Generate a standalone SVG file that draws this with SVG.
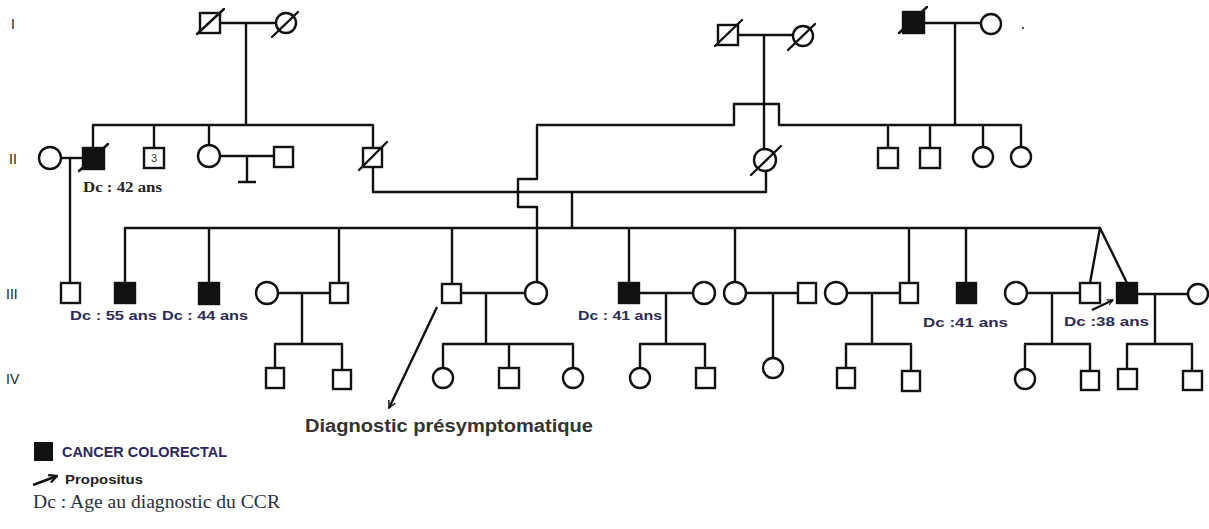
<svg xmlns="http://www.w3.org/2000/svg" width="1209" height="529" viewBox="0 0 1209 529">
  <style>
    .ln { fill: none; stroke: #111; stroke-width: 2.4; stroke-linejoin: round; }
    .m { fill: #fff; stroke: #111; stroke-width: 2.4; }
    .f { fill: #fff; stroke: #111; stroke-width: 2.4; }
    .a { fill: #111; stroke: #111; stroke-width: 2.4; }
    .sl { stroke: #111; stroke-width: 2.4; stroke-linecap: round; }
    .gen { font-family: "Liberation Sans", Arial, sans-serif; font-size: 14px; fill: #222; }
    .dc { font-family: "Liberation Sans", Arial, sans-serif; font-size: 13px; font-weight: bold; fill: #2d2b55; }
    .dcs { font-family: "Liberation Serif", "Times New Roman", serif; font-size: 14px; font-weight: bold; fill: #222; }
    .note { font-family: "Liberation Sans", Arial, sans-serif; font-size: 18px; font-weight: bold; fill: #333; }
    .leg { font-family: "Liberation Sans", Arial, sans-serif; font-size: 15px; font-weight: bold; fill: #2a2860; }
    .legp { font-family: "Liberation Sans", Arial, sans-serif; font-size: 13px; font-weight: bold; fill: #222; }
    .legs { font-family: "Liberation Serif", "Times New Roman", serif; font-size: 18px; fill: #2a3040; }
  </style>
  <defs>
    <marker id="head" viewBox="0 0 10 10" refX="9" refY="5" markerWidth="7" markerHeight="7" markerUnits="userSpaceOnUse" orient="auto">
      <path d="M1,1 L9,5 L1,9" fill="none" stroke="#111" stroke-width="1.6"/>
    </marker>
    <marker id="headS" viewBox="0 0 10 10" refX="9" refY="5" markerWidth="9" markerHeight="9" markerUnits="userSpaceOnUse" orient="auto">
      <path d="M1,1 L9,5 L1,9" fill="none" stroke="#111" stroke-width="1.6"/>
    </marker>
    <marker id="headL" viewBox="0 0 10 10" refX="9" refY="5" markerWidth="10" markerHeight="10" markerUnits="userSpaceOnUse" orient="auto">
      <path d="M1,1 L9,5 L1,9" fill="none" stroke="#111" stroke-width="2.2"/>
    </marker>
  </defs>

  <!-- generation numerals -->
  <g id="generations">
    <text class="gen" x="11" y="29">I</text>
    <text class="gen" x="9" y="164">II</text>
    <text class="gen" x="6" y="299">III</text>
    <text class="gen" x="6" y="384">IV</text>
  </g>

  <!-- connectors -->
  <g id="connectors">
    <!-- generation I couples -->
    <path class="ln" d="M220,23 H276"/>
    <path class="ln" d="M246,23 V125"/>
    <path class="ln" d="M738,35 H793"/>
    <path class="ln" d="M764,35 V149"/>
    <path class="ln" d="M924,23 H981"/>
    <path class="ln" d="M955,23 V125"/>

    <!-- generation II sibships -->
    <path class="ln" d="M93,148 V125 H373 V148"/>
    <path class="ln" d="M154,125 V148"/>
    <path class="ln" d="M209,125 V145"/>
    <path class="ln" d="M537,283 V207 H518 V179 H537 V125 H734 V104 H779 V125 H1021 V147"/>
    <path class="ln" d="M888,125 V148"/>
    <path class="ln" d="M930,125 V148"/>
    <path class="ln" d="M983,125 V147"/>

    <!-- generation II unions -->
    <path class="ln" d="M61,158 H83"/>
    <path class="ln" d="M70,158 V283"/>
    <path class="ln" d="M220,156 H274"/>
    <path class="ln" d="M247,156 V182 M238,182 H256"/>
    <path class="ln" d="M373,167 V192 H766 V171"/>
    <path class="ln" d="M572,192 V228"/>

    <!-- generation III sibship -->
    <path class="ln" d="M125,283 V228 H1100"/>
    <path class="ln" d="M209,228 V283"/>
    <path class="ln" d="M339,228 V283"/>
    <path class="ln" d="M452,228 V284"/>
    <path class="ln" d="M629,228 V283"/>
    <path class="ln" d="M735,228 V282"/>
    <path class="ln" d="M909,228 V283"/>
    <path class="ln" d="M966,228 V283"/>
    <path class="ln" d="M1090,283 L1100,228 L1127,283"/>

    <!-- generation III unions -->
    <path class="ln" d="M278,293 H330"/>
    <path class="ln" d="M302,293 V344"/>
    <path class="ln" d="M461,293 H525"/>
    <path class="ln" d="M486,293 V344"/>
    <path class="ln" d="M639,293 H693"/>
    <path class="ln" d="M666,293 V344"/>
    <path class="ln" d="M746,293 H798"/>
    <path class="ln" d="M773,293 V368"/>
    <path class="ln" d="M847,293 H900"/>
    <path class="ln" d="M872,293 V344"/>
    <path class="ln" d="M1027,293 H1080"/>
    <path class="ln" d="M1052,293 V344"/>
    <path class="ln" d="M1137,294 H1188"/>
    <path class="ln" d="M1155,294 V344"/>

    <!-- generation IV sibships -->
    <path class="ln" d="M275,368 V344 H342 V370"/>
    <path class="ln" d="M443,368 V344 H573 V368"/>
    <path class="ln" d="M509,344 V368"/>
    <path class="ln" d="M640,368 V344 H705 V368"/>
    <path class="ln" d="M846,368 V344 H911 V371"/>
    <path class="ln" d="M1025,369 V344 H1090 V371"/>
    <path class="ln" d="M1127,369 V344 H1192 V371"/>

    <!-- pointers -->
    <path class="ln" d="M437,307 L389,408" stroke-width="1.6" marker-end="url(#headS)"/>
    <path class="ln" d="M1092,310 L1113,300" stroke-width="1.6" marker-end="url(#head)"/>
  </g>

  <!-- generation I -->
  <g id="I-1"><rect class="m" x="200" y="13" width="20" height="20"/><line class="sl" x1="197" y1="34" x2="224" y2="9"/></g>
  <g id="I-2"><circle class="f" cx="286" cy="23" r="10"/><line class="sl" x1="272" y1="37" x2="298" y2="12"/></g>
  <g id="I-3"><rect class="m" x="718" y="25" width="20" height="20"/><line class="sl" x1="715" y1="46" x2="742" y2="20"/></g>
  <g id="I-4"><circle class="f" cx="803" cy="36" r="10"/><line class="sl" x1="788" y1="50" x2="815" y2="24"/></g>
  <g id="I-5"><rect class="a" x="903" y="12" width="21" height="21"/><line class="sl" x1="899" y1="33" x2="927" y2="7"/></g>
  <g id="I-6"><circle class="f" cx="991" cy="24" r="10"/><circle cx="1023" cy="28" r="1.2" fill="#555"/></g>

  <!-- generation II -->
  <g id="II-1"><circle class="f" cx="50" cy="158" r="11"/></g>
  <g id="II-2"><rect class="a" x="83" y="148" width="21" height="21"/><line class="sl" x1="79" y1="171" x2="108" y2="144"/>
    <text class="dcs" x="83" y="192" textLength="79" lengthAdjust="spacingAndGlyphs">Dc : 42 ans</text></g>
  <g id="II-3"><rect class="m" x="144" y="148" width="20" height="20"/>
    <text x="154" y="162" font-family="Liberation Sans, Arial, sans-serif" font-size="11" fill="#333" text-anchor="middle">3</text></g>
  <g id="II-4"><circle class="f" cx="209" cy="156" r="11"/></g>
  <g id="II-5"><rect class="m" x="274" y="147" width="19" height="20"/></g>
  <g id="II-6"><rect class="m" x="363" y="148" width="19" height="19"/><line class="sl" x1="359" y1="170" x2="387" y2="142"/></g>
  <g id="II-7"><circle class="f" cx="765" cy="160" r="11"/><line class="sl" x1="751" y1="175" x2="781" y2="146"/></g>
  <g id="II-8"><rect class="m" x="878" y="148" width="20" height="20"/></g>
  <g id="II-9"><rect class="m" x="920" y="148" width="20" height="20"/></g>
  <g id="II-10"><circle class="f" cx="983" cy="157" r="10"/></g>
  <g id="II-11"><circle class="f" cx="1021" cy="157" r="10"/></g>

  <!-- generation III -->
  <g id="III-1"><rect class="m" x="61" y="283" width="19" height="20"/></g>
  <g id="III-2"><rect class="a" x="115" y="283" width="20" height="20"/>
    <text class="dc" x="70" y="320" textLength="87" lengthAdjust="spacingAndGlyphs">Dc : 55 ans</text></g>
  <g id="III-3"><rect class="a" x="199" y="283" width="20" height="21"/>
    <text class="dc" x="162" y="320" textLength="86" lengthAdjust="spacingAndGlyphs">Dc : 44 ans</text></g>
  <g id="III-4"><circle class="f" cx="267" cy="293" r="11"/></g>
  <g id="III-5"><rect class="m" x="330" y="283" width="18" height="20"/></g>
  <g id="III-6"><rect class="m" x="442" y="284" width="19" height="19"/></g>
  <g id="III-7"><circle class="f" cx="536" cy="293" r="11"/></g>
  <g id="III-8"><rect class="a" x="619" y="283" width="20" height="20"/>
    <text class="dc" x="578" y="320" textLength="84" lengthAdjust="spacingAndGlyphs">Dc : 41 ans</text></g>
  <g id="III-9"><circle class="f" cx="704" cy="293" r="11"/></g>
  <g id="III-10"><circle class="f" cx="735" cy="293" r="11"/></g>
  <g id="III-11"><rect class="m" x="798" y="283" width="18" height="20"/></g>
  <g id="III-12"><circle class="f" cx="836" cy="293" r="11"/></g>
  <g id="III-13"><rect class="m" x="900" y="283" width="18" height="20"/></g>
  <g id="III-14"><rect class="a" x="957" y="283" width="19" height="20"/>
    <text class="dc" x="923" y="327" textLength="85" lengthAdjust="spacingAndGlyphs">Dc :41 ans</text></g>
  <g id="III-15"><circle class="f" cx="1016" cy="293" r="11"/></g>
  <g id="III-16"><rect class="m" x="1080" y="283" width="20" height="20"/></g>
  <g id="III-17"><rect class="a" x="1117" y="283" width="20" height="20"/>
    <text class="dc" x="1064" y="326" textLength="85" lengthAdjust="spacingAndGlyphs">Dc :38 ans</text></g>
  <g id="III-18"><circle class="f" cx="1198" cy="294" r="10"/></g>

  <!-- generation IV -->
  <g id="IV-1"><rect class="m" x="266" y="368" width="18" height="20"/></g>
  <g id="IV-2"><rect class="m" x="333" y="370" width="18" height="19"/></g>
  <g id="IV-3"><circle class="f" cx="443" cy="378" r="10"/></g>
  <g id="IV-4"><rect class="m" x="499" y="368" width="20" height="20"/></g>
  <g id="IV-5"><circle class="f" cx="573" cy="378" r="10"/></g>
  <g id="IV-6"><circle class="f" cx="640" cy="378" r="10"/></g>
  <g id="IV-7"><rect class="m" x="696" y="368" width="19" height="20"/></g>
  <g id="IV-8"><circle class="f" cx="773" cy="368" r="10"/></g>
  <g id="IV-9"><rect class="m" x="837" y="368" width="18" height="20"/></g>
  <g id="IV-10"><rect class="m" x="902" y="371" width="18" height="20"/></g>
  <g id="IV-11"><circle class="f" cx="1025" cy="379" r="10"/></g>
  <g id="IV-12"><rect class="m" x="1081" y="371" width="18" height="19"/></g>
  <g id="IV-13"><rect class="m" x="1118" y="369" width="19" height="20"/></g>
  <g id="IV-14"><rect class="m" x="1183" y="371" width="19" height="19"/></g>

  <!-- annotation -->
  <g id="note">
    <text class="note" x="305" y="432" textLength="288" lengthAdjust="spacingAndGlyphs">Diagnostic présymptomatique</text>
  </g>

  <!-- legend -->
  <g id="legend">
    <rect x="34" y="442" width="19" height="19" fill="#111"/>
    <text class="leg" x="62" y="457" textLength="165" lengthAdjust="spacingAndGlyphs">CANCER COLORECTAL</text>
    <path d="M33,485 L57,476" fill="none" stroke="#111" stroke-width="2.6" marker-end="url(#headL)"/>
    <text class="legp" x="65" y="484" textLength="78" lengthAdjust="spacingAndGlyphs">Propositus</text>
    <text class="legs" x="33" y="508" textLength="247" lengthAdjust="spacingAndGlyphs">Dc : Age au diagnostic du CCR</text>
  </g>
</svg>
